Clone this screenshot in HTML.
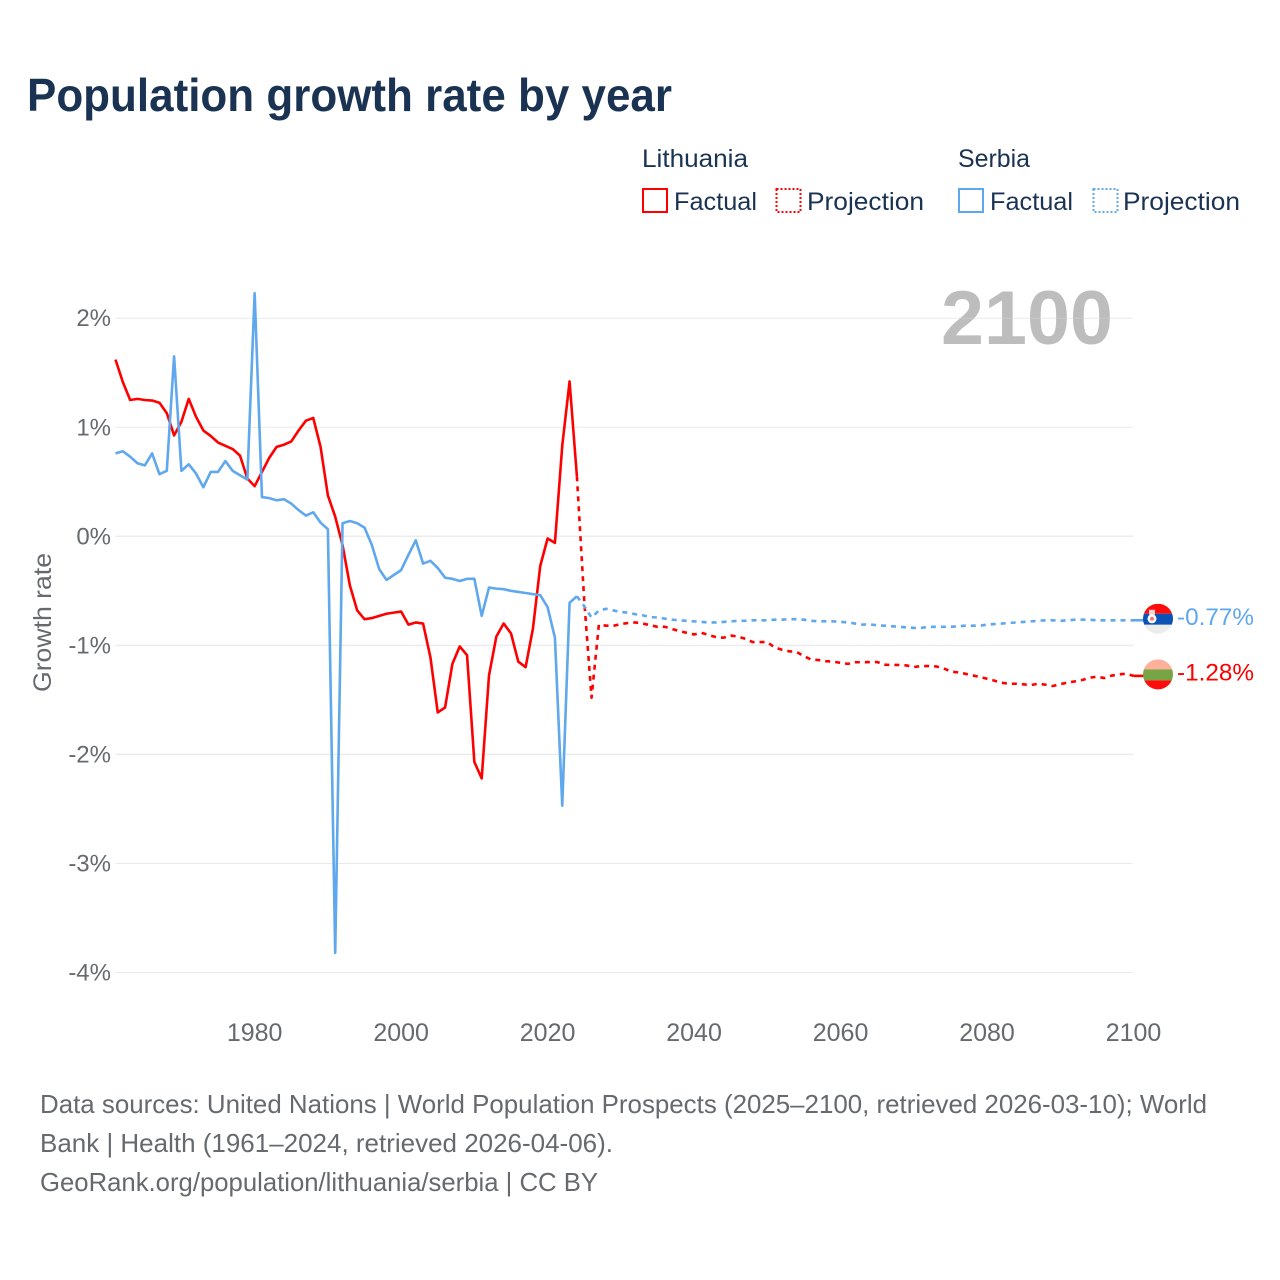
<!DOCTYPE html>
<html lang="en">
<head>
<meta charset="utf-8">
<title>Population growth rate by year</title>
<style>
  html,body{margin:0;padding:0;background:#fff;}
  body{width:1280px;height:1280px;overflow:hidden;}
  svg{display:block;font-family:"Liberation Sans",sans-serif;}
  .legend-text{fill:#1b3352;font-size:25px;}
  .axis-text{fill:#666a6e;font-size:25px;}
  .foot-text{fill:#666a6e;font-size:26px;}
</style>
</head>
<body>
<svg id="chart" xmlns="http://www.w3.org/2000/svg" width="1280" height="1280" viewBox="0 0 1280 1280">
  <rect width="1280" height="1280" fill="#fff"/>
  <text x="27" y="111" font-size="46" font-weight="bold" fill="#1b3352" textLength="645" lengthAdjust="spacingAndGlyphs">Population growth rate by year</text>

  <g>
    <text class="legend-text" x="642" y="167" textLength="106" lengthAdjust="spacingAndGlyphs">Lithuania</text>
    <text class="legend-text" x="958" y="167" textLength="72" lengthAdjust="spacingAndGlyphs">Serbia</text>
    <rect x="643" y="189" width="24" height="23" fill="none" stroke="#ff0000" stroke-width="2"/>
    <text class="legend-text" x="674" y="210" textLength="83" lengthAdjust="spacingAndGlyphs">Factual</text>
    <rect x="776.5" y="189" width="24" height="23" fill="none" stroke="#ff0000" stroke-width="2" stroke-dasharray="2 2"/>
    <text class="legend-text" x="807" y="210" textLength="117" lengthAdjust="spacingAndGlyphs">Projection</text>
    <rect x="959" y="189" width="24" height="23" fill="none" stroke="#5fa8ee" stroke-width="2"/>
    <text class="legend-text" x="990" y="210" textLength="83" lengthAdjust="spacingAndGlyphs">Factual</text>
    <rect x="1093.5" y="189" width="24" height="23" fill="none" stroke="#5fa8ee" stroke-width="2" stroke-dasharray="2 2"/>
    <text class="legend-text" x="1123" y="210" textLength="117" lengthAdjust="spacingAndGlyphs">Projection</text>
  </g>

  <text x="941" y="344" font-size="76" font-weight="bold" fill="#bdbdbd" textLength="172" lengthAdjust="spacingAndGlyphs">2100</text>
  <text class="axis-text" transform="translate(51,692) rotate(-90)" x="0" y="0" textLength="139" lengthAdjust="spacingAndGlyphs">Growth rate</text>

  <g id="grid"></g>
  <g id="yticks"></g>
  <g id="xticks"></g>
  <g id="series"></g>

  <defs>
    <clipPath id="clip-flag-serbia"><circle id="clip-circle-serbia" r="15"/></clipPath>
    <clipPath id="clip-flag-lithuania"><circle id="clip-circle-lithuania" r="15"/></clipPath>
  </defs>
  <g id="flag-serbia" clip-path="url(#clip-flag-serbia)">
    <rect x="-15" y="-15" width="30" height="10" fill="#ff0d0d"/>
    <rect x="-15" y="-5" width="30" height="11" fill="#0c52b4"/>
    <rect x="-15" y="6" width="30" height="10" fill="#ececec"/>
    <rect x="-9" y="-9" width="6" height="5" fill="#ffd0d0"/>
    <circle cx="-6" cy="0" r="4.5" fill="#ffffff"/>
    <circle cx="-6" cy="0" r="2" fill="#ef7a7a"/>
  </g>
  <g id="flag-lithuania" clip-path="url(#clip-flag-lithuania)">
    <rect x="-15" y="-15" width="30" height="10" fill="#feb09b"/>
    <rect x="-15" y="-5" width="30" height="11" fill="#77a545"/>
    <rect x="-15" y="6" width="30" height="10" fill="#ff0d0d"/>
  </g>
  <text id="label-serbia" x="1177" font-size="24.5" fill="#5fa8ee" textLength="77" lengthAdjust="spacingAndGlyphs"></text>
  <text id="label-lithuania" x="1177" font-size="24.5" fill="#ff0000" textLength="77" lengthAdjust="spacingAndGlyphs"></text>

  <g>
    <text class="foot-text" x="40" y="1113" textLength="1167" lengthAdjust="spacingAndGlyphs">Data sources: United Nations | World Population Prospects (2025–2100, retrieved 2026-03-10); World</text>
    <text class="foot-text" x="40" y="1152" textLength="573" lengthAdjust="spacingAndGlyphs">Bank | Health (1961–2024, retrieved 2026-04-06).</text>
    <text class="foot-text" x="40" y="1191" textLength="558" lengthAdjust="spacingAndGlyphs">GeoRank.org/population/lithuania/serbia | CC BY</text>
  </g>
</svg>
<script>
const firstFactualYear = 1961;
const firstProjectionYear = 2024;
const xTickYears = [1980, 2000, 2020, 2040, 2060, 2080, 2100];
const yTickValues = [2, 1, 0, -1, -2, -3, -4];
const dottedGridValues = [2, 1, -3, -4];

const lithuaniaFactual = [1.62,1.415,1.25,1.26,1.25,1.245,1.225,1.13,0.925,1.05,1.26,1.095,0.97,0.92,0.86,0.83,0.80,0.74,0.53,0.46,0.59,0.72,0.82,0.84,0.87,0.97,1.06,1.085,0.82,0.375,0.18,-0.08,-0.45,-0.68,-0.76,-0.75,-0.73,-0.71,-0.70,-0.69,-0.81,-0.79,-0.80,-1.11,-1.615,-1.57,-1.17,-1.01,-1.09,-2.07,-2.22,-1.275,-0.92,-0.80,-0.89,-1.15,-1.20,-0.845,-0.27,-0.02,-0.06,0.83,1.42,0.55];
const lithuaniaProjection = [0.55,-0.59,-1.48,-0.81,-0.82,-0.82,-0.805,-0.795,-0.79,-0.80,-0.815,-0.83,-0.83,-0.85,-0.87,-0.885,-0.90,-0.885,-0.905,-0.925,-0.93,-0.91,-0.92,-0.94,-0.97,-0.97,-0.97,-1.02,-1.04,-1.055,-1.06,-1.10,-1.13,-1.135,-1.145,-1.15,-1.16,-1.17,-1.155,-1.155,-1.153,-1.153,-1.177,-1.18,-1.18,-1.184,-1.199,-1.19,-1.19,-1.193,-1.208,-1.239,-1.248,-1.26,-1.275,-1.29,-1.306,-1.324,-1.343,-1.352,-1.352,-1.358,-1.364,-1.352,-1.361,-1.373,-1.355,-1.343,-1.33,-1.318,-1.297,-1.287,-1.30,-1.278,-1.266,-1.26,-1.28];
const serbiaFactual = [0.76,0.78,0.73,0.67,0.65,0.76,0.57,0.60,1.65,0.60,0.66,0.575,0.45,0.59,0.59,0.69,0.60,0.56,0.52,2.23,0.36,0.35,0.33,0.34,0.30,0.24,0.19,0.22,0.125,0.065,-3.82,0.12,0.14,0.12,0.08,-0.08,-0.30,-0.40,-0.355,-0.31,-0.17,-0.037,-0.25,-0.225,-0.29,-0.38,-0.39,-0.41,-0.39,-0.39,-0.73,-0.47,-0.48,-0.485,-0.50,-0.51,-0.52,-0.53,-0.54,-0.65,-0.93,-2.47,-0.61,-0.55];
const serbiaProjection = [-0.55,-0.64,-0.745,-0.68,-0.665,-0.68,-0.695,-0.70,-0.715,-0.725,-0.74,-0.745,-0.755,-0.765,-0.77,-0.775,-0.78,-0.785,-0.79,-0.79,-0.785,-0.78,-0.775,-0.775,-0.77,-0.77,-0.77,-0.765,-0.765,-0.76,-0.76,-0.765,-0.775,-0.78,-0.78,-0.78,-0.785,-0.79,-0.80,-0.81,-0.807,-0.817,-0.82,-0.825,-0.83,-0.835,-0.84,-0.84,-0.83,-0.83,-0.83,-0.83,-0.825,-0.82,-0.82,-0.82,-0.81,-0.805,-0.80,-0.795,-0.79,-0.785,-0.78,-0.775,-0.77,-0.77,-0.775,-0.77,-0.765,-0.765,-0.765,-0.77,-0.77,-0.77,-0.77,-0.77,-0.77];
const endValues = { serbia: -0.77, lithuania: -1.28 };

const SVGNS = 'http://www.w3.org/2000/svg';
const plotLeft = 115.5, plotRight = 1133.5;
function xScale(year) { return plotLeft + (year - 1961) * (plotRight - plotLeft) / (2100 - 1961); }
function yScale(value) { return 536.3 - value * 109.05; }

const gridGroup = document.getElementById('grid');
const yTickGroup = document.getElementById('yticks');
const xTickGroup = document.getElementById('xticks');
const seriesGroup = document.getElementById('series');

yTickValues.forEach(function (v) {
  const dotted = dottedGridValues.indexOf(v) >= 0;
  const line = document.createElementNS(SVGNS, 'line');
  
  
  line.setAttribute('x1', plotLeft);
  line.setAttribute('x2', plotRight);
  line.setAttribute('y1', yScale(v));
  line.setAttribute('y2', yScale(v));
  line.setAttribute('stroke', dotted ? '#d4d4d4' : '#ececec');
  line.setAttribute('stroke-width', dotted ? 1 : 1.5);
  if (dotted) line.setAttribute('stroke-dasharray', '1 1');
  gridGroup.appendChild(line);

  const label = document.createElementNS(SVGNS, 'text');
  
  
  label.setAttribute('class', 'axis-text');
  label.setAttribute('x', 111);
  label.setAttribute('y', yScale(v) + 8);
  label.setAttribute('text-anchor', 'end');
  label.setAttribute('font-size', '24');
  label.style.fontSize = '24px';
  label.textContent = v + '%';
  yTickGroup.appendChild(label);
});

xTickYears.forEach(function (year) {
  const label = document.createElementNS(SVGNS, 'text');
  
  
  label.setAttribute('class', 'axis-text');
  label.setAttribute('x', xScale(year));
  label.setAttribute('y', 1041);
  label.setAttribute('text-anchor', 'middle');
  label.textContent = year;
  xTickGroup.appendChild(label);
});

function pointsFor(values, startYear) {
  return values.map(function (v, i) {
    return xScale(startYear + i).toFixed(2) + ',' + yScale(v).toFixed(2);
  }).join(' ');
}

function addLine(name, values, startYear, color, dashed) {
  const line = document.createElementNS(SVGNS, 'polyline');
  
  
  line.setAttribute('points', pointsFor(values, startYear));
  line.setAttribute('fill', 'none');
  line.setAttribute('stroke', color);
  line.setAttribute('stroke-width', 2.6);
  line.setAttribute('stroke-linejoin', 'round');
  if (dashed) line.setAttribute('stroke-dasharray', '5 5');
  seriesGroup.appendChild(line);
}

addLine('lithuania-projection-line', lithuaniaProjection, firstProjectionYear, '#ff0000', true);
addLine('serbia-projection-line', serbiaProjection, firstProjectionYear, '#5fa8ee', true);
addLine('lithuania-factual-line', lithuaniaFactual, firstFactualYear, '#ff0000', false);
addLine('serbia-factual-line', serbiaFactual, firstFactualYear, '#5fa8ee', false);

function addEnd(key, seriesValues, color) {
  const lastValue = seriesValues[seriesValues.length - 1];
  const py = yScale(lastValue);
  const connector = document.createElementNS(SVGNS, 'line');
  
  
  connector.setAttribute('x1', xScale(2100));
  connector.setAttribute('x2', xScale(2100) + 10);
  connector.setAttribute('y1', py);
  connector.setAttribute('y2', py);
  connector.setAttribute('stroke', color);
  connector.setAttribute('stroke-width', 2.6);
  seriesGroup.appendChild(connector);

  const cx = xScale(2100) + 24.5, cy = py - 1.5;
  document.getElementById('flag-' + key).setAttribute('transform', 'translate(' + cx + ',' + cy + ')');
  document.getElementById('clip-circle-' + key).setAttribute('cx', 0);
  document.getElementById('clip-circle-' + key).setAttribute('cy', 0);

  const label = document.getElementById('label-' + key);
  label.setAttribute('y', py + 4.5);
  label.textContent = endValues[key].toFixed(2) + '%';
}
addEnd('serbia', serbiaProjection, '#5fa8ee');
addEnd('lithuania', lithuaniaProjection, '#ff0000');
</script>
</body>
</html>
